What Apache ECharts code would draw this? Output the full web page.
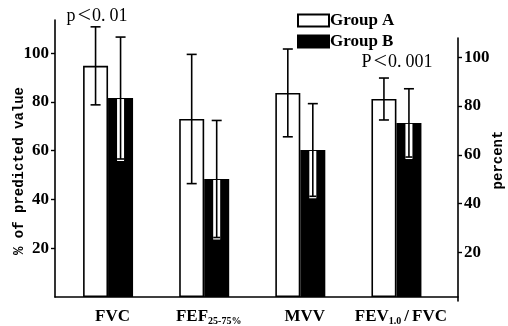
<!DOCTYPE html>
<html>
<head>
<meta charset="utf-8">
<script src="https://cdn.jsdelivr.net/npm/echarts@6/dist/echarts.min.js"></script>
<style>html,body{margin:0;padding:0;background:#fff;}#c{width:508px;height:326px;}</style>
</head>
<body>
<div id="c"></div>
<script>
const categories = ['FVC', 'FEF25-75%', 'MVV', 'FEV1.0/FVC'];
const groupAMean = [94.8, 73.0, 83.7, 81.2];
const groupASD = [16.0, 26.5, 18.0, 8.6];
const groupBMean = [81.6, 48.4, 60.3, 71.4];
const groupBSD = [25.0, 24.0, 19.0, 14.0];
const leftTicks = [20, 40, 60, 80, 100];
const rightTicks = [20, 40, 60, 80, 100];
const seriesNames = ['Group A', 'Group B'];
const leftAxisName = '% of predicted value';
const rightAxisName = 'percent';
const note1 = ['p', '<', '0.', '01'];
const note2 = ['P', '<', '0.', '001'];

const SERIF = 'Liberation Serif';
const MONO = 'Liberation Mono';
const BW = 25;

const labelRich = {
  f: {fontFamily: SERIF, fontWeight: 'bold', fontSize: 17, color: '#000', padding: [0, 0, 0, 9]},
  m: {fontFamily: SERIF, fontWeight: 'bold', fontSize: 17, color: '#000'},
  sl: {fontFamily: SERIF, fontWeight: 'bold', fontSize: 17, color: '#000', padding: [0, 3, 0, 3]},
  s: {fontFamily: SERIF, fontWeight: 'bold', fontSize: 10, color: '#000', verticalAlign: 'bottom', padding: [8, 0, 0, 0]}
};
function catLabel(v) {
  if (v.indexOf('FEF') === 0) return '{f|FEF}{s|' + v.slice(3) + '}';
  if (v.indexOf('FEV') === 0) { const p = v.split('/'); return '{f|FEV}{s|' + p[0].slice(3) + '}{sl|/}{m|' + p[1] + '}'; }
  return '{f|' + v + '}';
}
const noteRich = {
  a: {fontFamily: SERIF, fontSize: 18, color: '#000'},
  lt: {fontFamily: SERIF, fontSize: 24, color: '#000', padding: [0, 1, 0, 2]},
  d: {fontFamily: SERIF, fontSize: 18, color: '#000', padding: [0, 4, 0, 0]}
};
function noteText(p) { return '{a|' + p[0] + '}{lt|' + p[1] + '}{d|' + p[2] + '}{a|' + p[3] + '}'; }

function errItem(offset, isB) {
  return function (params, api) {
    const i = api.value(0), m = api.value(1), sd = api.value(2);
    const c = api.coord([i, m]);
    const x = c[0] + offset;
    const yT = api.coord([i, m + sd])[1];
    const yB = api.coord([i, m - sd])[1];
    const st = {stroke: '#000', lineWidth: 1.6};
    const ch = [];
    if (isB) {
      ch.push({type: 'rect', shape: {x: x - 3.5, y: c[1] + 1, width: 7, height: yB - c[1] + 1}, style: {fill: '#fff'}});
    }
    ch.push({type: 'line', shape: {x1: x, y1: yT, x2: x, y2: yB}, style: st});
    ch.push({type: 'line', shape: {x1: x - 5, y1: yT, x2: x + 5, y2: yT}, style: st});
    ch.push({type: 'line', shape: {x1: x - (isB ? 3.5 : 5), y1: yB, x2: x + (isB ? 3.5 : 5), y2: yB}, style: st});
    return {type: 'group', children: ch};
  };
}

const chart = echarts.init(document.getElementById('c'), null, {renderer: 'canvas'});
const axisFont = {fontFamily: SERIF, fontWeight: 'bold', fontSize: 17, color: '#000'};
chart.setOption({
  animation: false,
  backgroundColor: '#fff',
  grid: [
    {left: 55, right: 50, top: 20, bottom: 29},
    {left: 60, right: 63.5, top: 20, bottom: 29},
    {left: 55, right: 50, top: 38, bottom: 25}
  ],
  legend: {
    data: seriesNames, orient: 'vertical', left: 292, top: 7, icon: 'rect',
    itemWidth: 31, itemHeight: 12, itemGap: 4,
    textStyle: {fontFamily: SERIF, fontWeight: 'bold', fontSize: 17, color: '#000', padding: [0, 0, 0, -4]}
  },
  xAxis: [
    {type: 'value', gridIndex: 0, min: 0, max: 1, axisLine: {show: true, onZero: false, lineStyle: {color: '#000', width: 1.6}}, axisTick: {show: false}, axisLabel: {show: false}, splitLine: {show: false}},
    {type: 'category', gridIndex: 1, data: categories, axisLine: {show: false}, axisTick: {show: false},
      axisLabel: {margin: 11, formatter: catLabel, rich: labelRich, interval: 0}},
    {type: 'value', gridIndex: 2, min: 0, max: 1, show: false}
  ],
  yAxis: [
    {type: 'value', gridIndex: 0, min: 0, max: 113.6, interval: 20,
      axisLine: {show: true, onZero: false, lineStyle: {color: '#000', width: 1.6}},
      axisTick: {show: true, length: 4, customValues: leftTicks, lineStyle: {color: '#000', width: 1.4}},
      axisLabel: {customValues: leftTicks, margin: 6, ...axisFont},
      splitLine: {show: false}},
    {type: 'value', gridIndex: 1, min: 0, max: 113.6, show: false},
    {type: 'value', gridIndex: 2, position: 'right', min: 0, max: 107.9, interval: 20,
      axisLine: {show: true, onZero: false, lineStyle: {color: '#000', width: 1.6}},
      axisTick: {show: true, length: 4, customValues: rightTicks, lineStyle: {color: '#000', width: 1.4}},
      axisLabel: {customValues: rightTicks, margin: 6, ...axisFont},
      splitLine: {show: false}}
  ],
  graphic: [
    {type: 'text', x: 19, y: 171, rotation: Math.PI / 2, style: {text: leftAxisName, fontFamily: MONO, fontWeight: 'bold', fontSize: 14, fill: '#000', align: 'center', verticalAlign: 'middle'}},
    {type: 'text', x: 498, y: 160, rotation: Math.PI / 2, style: {text: rightAxisName, fontFamily: MONO, fontWeight: 'bold', fontSize: 14, fill: '#000', align: 'center', verticalAlign: 'middle'}},
    {type: 'text', x: 97, y: 16, style: {text: noteText(note1), rich: noteRich, align: 'center', verticalAlign: 'middle'}},
    {type: 'text', x: 397, y: 62, style: {text: noteText(note2), rich: noteRich, align: 'center', verticalAlign: 'middle'}}
  ],
  series: [
    {name: seriesNames[0], type: 'bar', xAxisIndex: 1, yAxisIndex: 1, data: groupAMean, barWidth: BW, barGap: '0%',
      itemStyle: {color: '#fff', borderColor: '#000', borderWidth: 1.6}},
    {name: seriesNames[1], type: 'bar', xAxisIndex: 1, yAxisIndex: 1, data: groupBMean, barWidth: BW, barGap: '0%',
      itemStyle: {color: '#000', borderColor: '#000', borderWidth: 1.6}},
    {name: 'errA', type: 'custom', xAxisIndex: 1, yAxisIndex: 1, z: 5,
      data: groupAMean.map((m, i) => [i, m, groupASD[i]]), encode: {x: 0, y: 1}, renderItem: errItem(-BW / 2, false)},
    {name: 'errB', type: 'custom', xAxisIndex: 1, yAxisIndex: 1, z: 5,
      data: groupBMean.map((m, i) => [i, m, groupBSD[i]]), encode: {x: 0, y: 1}, renderItem: errItem(BW / 2, true)}
  ]
});
</script>
</body>
</html>
